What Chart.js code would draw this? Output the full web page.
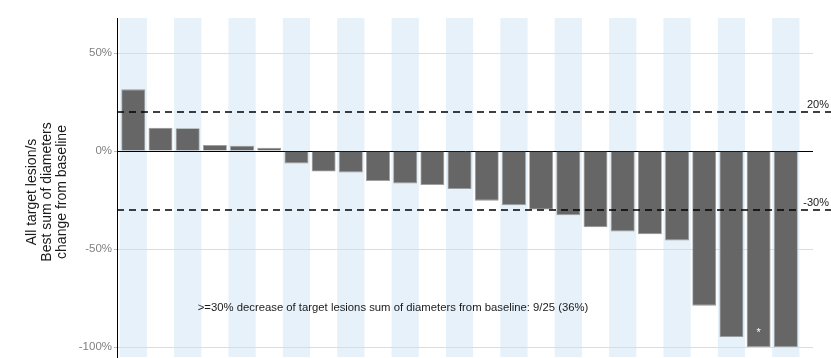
<!DOCTYPE html>
<html>
<head>
<meta charset="utf-8">
<script src="https://cdn.jsdelivr.net/npm/chart.js@4.4.1/dist/chart.umd.min.js"></script>
<style>
  html, body { margin: 0; padding: 0; background: #fff; overflow: hidden; }
  canvas { display: block; }
</style>
</head>
<body>
<canvas id="waterfall" width="831" height="358"></canvas>
<script>
// Best % change in sum of target lesion diameters, one bar per patient (sorted)
const patients = [1, 2, 3, 4, 5, 6, 7, 8, 9, 10, 11, 12, 13, 14, 15, 16, 17, 18, 19, 20, 21, 22, 23, 24, 25];
const bestChange = [31.5, 11.9, 11.6, 3.1, 2.7, 1.7, -6.3, -10.4, -10.9, -15.3, -16.5, -17.3, -19.4,
    -25.3, -27.6, -29.8, -32.7, -38.9, -41.0, -42.5, -45.6, -78.9, -94.9, -100, -100];
const yTicks = [50, 0, -50, -100];
const thresholds = [20, -30];
const starPatient = 24;
const yTitle = ['All target lesion/s', 'Best sum of diameters', 'change from baseline'];
const noteText = '>=30% decrease of target lesions sum of diameters from baseline: 9/25 (36%)';

const FONT = '"Liberation Sans", Arial, sans-serif';

// alternating light-blue column bands behind odd patients
const bandsPlugin = {
    id: 'bands',
    beforeDraw(chart) {
        const { ctx, chartArea, scales: { x } } = chart;
        ctx.save();
        ctx.fillStyle = '#e6f1f9';
        patients.forEach((p, i) => {
            if (i % 2 !== 0) return;
            const l = x.getPixelForValue(p - 0.5);
            const r = x.getPixelForValue(p + 0.5);
            ctx.fillRect(l, chartArea.top, r - l, chartArea.bottom - chartArea.top);
        });
        ctx.restore();
    }
};

// threshold lines, their labels, the note, the star marker and the y title
const overlayPlugin = {
    id: 'overlay',
    afterDatasetsDraw(chart) {
        const { ctx, chartArea, scales: { x, y } } = chart;
        ctx.save();
        ctx.strokeStyle = '#000';
        ctx.lineWidth = 1.5;
        ctx.setLineDash([7, 5]);
        ctx.font = '11px ' + FONT;
        ctx.textAlign = 'right';
        ctx.textBaseline = 'alphabetic';
        thresholds.forEach(t => {
            const py = Math.round(y.getPixelForValue(t));
            ctx.beginPath();
            ctx.moveTo(chartArea.left, py);
            ctx.lineTo(chart.width, py);
            ctx.stroke();
            ctx.fillStyle = '#1a1a1a';
            ctx.fillText(t + '%', chart.width - 2, py - 4);
        });
        ctx.setLineDash([]);

        ctx.fillStyle = '#1a1a1a';
        ctx.font = '11.3px ' + FONT;
        ctx.textAlign = 'left';
        ctx.textBaseline = 'middle';
        ctx.fillText(noteText, x.getPixelForValue(3.37), y.getPixelForValue(-80));

        ctx.fillStyle = '#ffffff';
        ctx.font = '11px ' + FONT;
        ctx.textAlign = 'center';
        ctx.fillText('*', x.getPixelForValue(starPatient), y.getPixelForValue(-93));

        // rotated three-line axis title
        ctx.translate(47, 192);
        ctx.rotate(-Math.PI / 2);
        ctx.fillStyle = '#1a1a1a';
        ctx.font = '14px ' + FONT;
        yTitle.forEach((line, i) => ctx.fillText(line, 0, (i - 1) * 15));
        ctx.restore();
    }
};

new Chart(document.getElementById('waterfall'), {
    type: 'bar',
    data: {
        datasets: [{
            data: patients.map((p, i) => ({ x: p, y: bestChange[i] })),
            backgroundColor: '#666666',
            borderColor: '#9a9a9a',
            borderWidth: 0.8,
            barPercentage: 0.88,
            categoryPercentage: 1.0
        }]
    },
    options: {
        responsive: false,
        animation: false,
        layout: { padding: { top: 18, right: 18, bottom: 1, left: 0 } },
        plugins: { legend: { display: false }, tooltip: { enabled: false } },
        scales: {
            x: { type: 'linear', min: 0.4, max: 26, offset: false, display: false },
            y: {
                min: -105.1,
                max: 67.9,
                afterBuildTicks: s => { s.ticks = yTicks.map(v => ({ value: v })); },
                afterFit: s => {
                    s.width = 117;
                    s.paddingTop = 0;
                    s.paddingBottom = 0;
                },
                border: { display: true, color: '#000', width: 1 },
                grid: {
                    color: c => c.tick && c.tick.value === 0 ? '#000' : '#dcdcdc',
                    lineWidth: 1,
                    tickLength: 3,
                    tickColor: '#bbbbbb'
                },
                ticks: {
                    color: '#808080',
                    font: { family: FONT, size: 11.5 },
                    padding: 2,
                    callback: v => v + '%'
                }
            }
        }
    },
    plugins: [bandsPlugin, overlayPlugin]
});
</script>
</body>
</html>
